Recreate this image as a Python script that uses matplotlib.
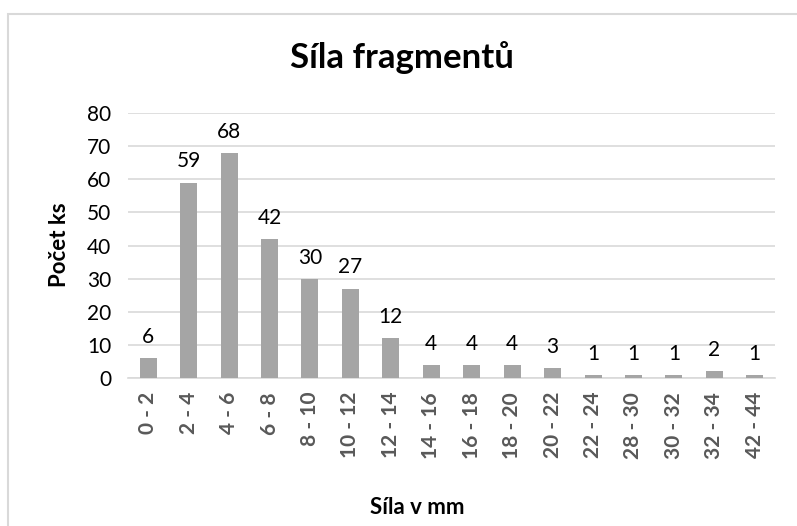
import matplotlib.pyplot as plt
from matplotlib.patches import Rectangle

categories = ['0 - 2', '2 - 4', '4 - 6', '6 - 8', '8 - 10', '10 - 12', '12 - 14',
              '14 - 16', '16 - 18', '18 - 20', '20 - 22', '22 - 24', '28 - 30',
              '30 - 32', '32 - 34', '42 - 44']
counts = [6, 59, 68, 42, 30, 27, 12, 4, 4, 4, 3, 1, 1, 1, 2, 1]

plt.rcParams['font.family'] = ['Lato', 'DejaVu Sans']

W, H = 797, 526
fig = plt.figure(figsize=(W / 100, H / 100), dpi=100)
fig.patch.set_facecolor('white')

# chart border (only left/top visible in the reference)
fig.patches.append(Rectangle((8 / W, -0.1), 1.2, 1.1 - 14 / H,
                             transform=fig.transFigure, fill=False,
                             edgecolor='#D9D9D9', linewidth=1.5))

ax = fig.add_axes([128 / W, 1 - 378 / H, (775 - 128) / W, (378 - 113) / H])
x = list(range(len(categories)))
ax.bar(x, counts, width=0.42, color='#A5A5A5', zorder=3)

ax.set_ylim(0, 80)
ax.set_xlim(-0.5, len(categories) - 0.5)
ax.set_yticks(range(0, 81, 10))
ax.yaxis.grid(True, color='#D9D9D9', linewidth=1.2, zorder=0)
for s in ['top', 'right', 'left']:
    ax.spines[s].set_visible(False)
ax.spines['bottom'].set_color('#D9D9D9')
ax.spines['bottom'].set_linewidth(1.2)
ax.tick_params(axis='both', length=0)
ax.tick_params(axis='y', labelsize=15, pad=12)
ax.set_xticks(x)
ax.set_xticklabels(categories, rotation=90, fontsize=15, fontweight='bold',
                   color='#595959')
ax.tick_params(axis='x', pad=10)

for xi, v in zip(x, counts):
    ax.annotate(str(v), (xi, v), xytext=(0, 8), textcoords='offset points',
                ha='center', va='bottom', fontsize=15)

fig.text(402 / W, 1 - 58 / H, 'Síla fragmentů', ha='center', va='center',
         fontsize=25, fontweight='bold')
fig.text(60 / W, 1 - 245 / H, 'Počet ks', ha='center', va='center',
         rotation=90, fontsize=16, fontweight='bold')
fig.text(417 / W, 1 - 508 / H, 'Síla v mm', ha='center', va='center',
         fontsize=16, fontweight='bold')

fig.savefig('out.png', dpi=100)
